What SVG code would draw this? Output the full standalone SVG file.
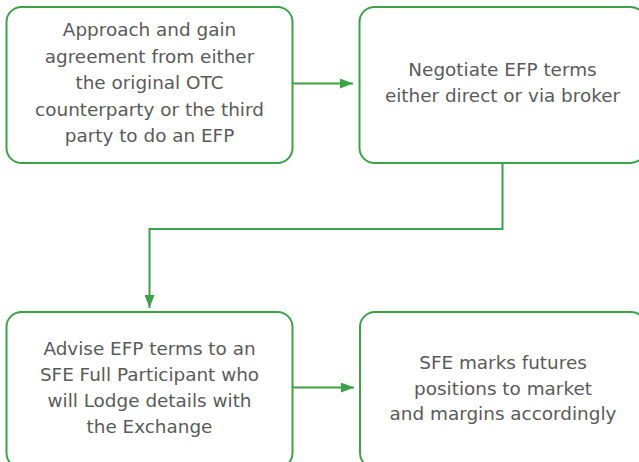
<svg xmlns="http://www.w3.org/2000/svg" width="639" height="462" viewBox="0 0 639 462">
<defs>
<marker id="ah" markerWidth="13" markerHeight="10" refX="13" refY="5" orient="auto" markerUnits="userSpaceOnUse">
<path d="M0,0 L13,5 L0,10 Z" fill="#3aa346"/>
</marker>
<style>
.box{fill:#fff;stroke:#3aa346;stroke-width:2}
.t{font-family:"DejaVu Sans",Verdana,sans-serif;font-size:18.4px;fill:#5a5a5a;text-anchor:middle}
.c{fill:none;stroke:#3aa346;stroke-width:2}
</style>
</defs>
<rect width="639" height="462" fill="#fff"/>
<g id="n1">
<rect class="box" x="6.5" y="7" width="286" height="156" rx="15"/>
<text class="t"><tspan x="149.5" y="36">Approach and gain</tspan><tspan x="149.5" y="62.5">agreement from either</tspan><tspan x="149.5" y="89">the original OTC</tspan><tspan x="149.5" y="115.5">counterparty or the third</tspan><tspan x="149.5" y="142">party to do an EFP</tspan></text>
</g>
<g id="n2">
<rect class="box" x="359.5" y="7" width="286" height="156" rx="15"/>
<text class="t"><tspan x="502.5" y="76">Negotiate EFP terms</tspan><tspan x="502.5" y="102">either direct or via broker</tspan></text>
</g>
<g id="n3">
<rect class="box" x="6.5" y="312" width="286" height="156" rx="15"/>
<text class="t"><tspan x="149.5" y="355">Advise EFP terms to an</tspan><tspan x="149.5" y="381">SFE Full Participant who</tspan><tspan x="149.5" y="407">will Lodge details with</tspan><tspan x="149.5" y="433">the Exchange</tspan></text>
</g>
<g id="n4">
<rect class="box" x="360" y="312" width="286" height="156" rx="15"/>
<text class="t"><tspan x="503" y="368.5">SFE marks futures</tspan><tspan x="503" y="394.5">positions to market</tspan><tspan x="503" y="420">and margins accordingly</tspan></text>
</g>
<g id="connectors">
<path class="c" d="M292.5,83.5 H353" marker-end="url(#ah)"/>
<path class="c" d="M502.5,163 V229 H149.5 V308" marker-end="url(#ah)"/>
<path class="c" d="M292.5,387.5 H354" marker-end="url(#ah)"/>
</g>
</svg>
